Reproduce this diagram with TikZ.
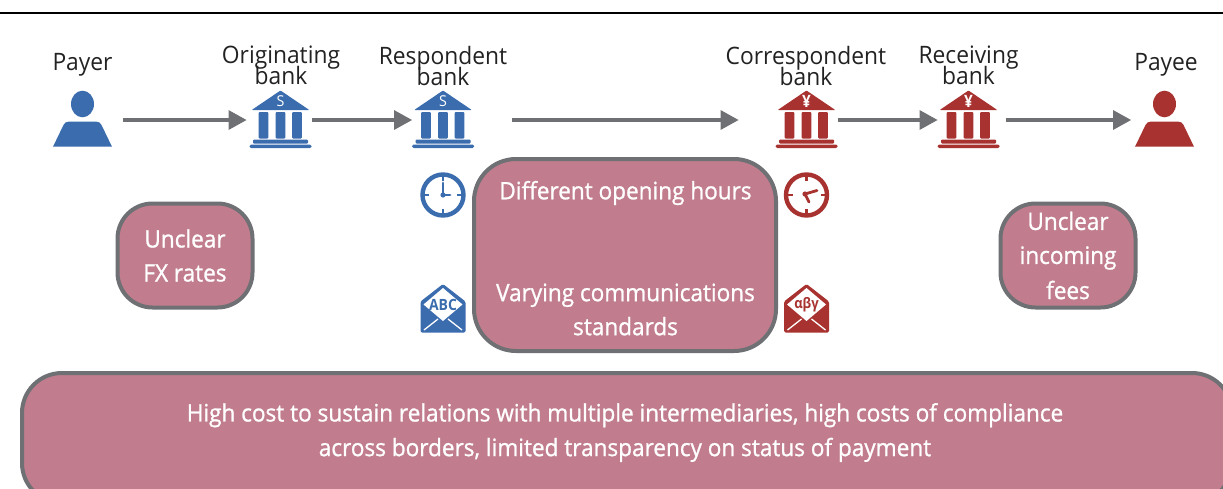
\documentclass[tikz,border=0pt]{standalone}
\usepackage{fontspec}
\setmainfont{Open Sans}
\newfontfamily\labelfont[FakeStretch=0.95]{Open Sans}
\newfontfamily\boxfont[FakeStretch=0.94,FakeBold=1.0]{Open Sans}
\newfontfamily\iconfont[FakeStretch=0.9]{Open Sans}
\usetikzlibrary{arrows.meta}
\definecolor{bluei}{HTML}{3A6CAE}
\definecolor{redi}{HTML}{A8322F}
\definecolor{boxfill}{HTML}{C17D8D}
\definecolor{boxline}{HTML}{6F7074}
\definecolor{inkc}{HTML}{222222}
\newcommand{\fs}[1]{\fontsize{#1}{#1}\selectfont}
\tikzset{
  x=1pt,y=-1pt,
  anchorbox/.style={inner sep=0pt,outer sep=0pt,minimum height=1pt,minimum width=#1},
  flow/.style={draw=boxline,line width=4pt,-{Triangle[length=18pt,width=20pt,line width=0pt]}},
  roundbox/.style={draw=boxline,fill=boxfill,line width=4pt,rounded corners=#1},
  boxtext/.style={text=white,align=center,inner sep=0pt,font=\boxfont\fs{24}},
  actor/.style={text=inkc,align=center,inner sep=0pt,font=\labelfont\fs{24}},
  pics/person/.style={code={
    \fill[#1] (0,-16) ellipse[x radius=11.5,y radius=13.3];
    \fill[#1] (-29.5,26.7) -- (-19,5) .. controls (-18,2.5) and (-16,1.7) .. (-14,1.7) -- (14,1.7) .. controls (16,1.7) and (18,2.5) .. (19,5) -- (29.5,26.7) -- cycle;
  }},
  pics/bank/.style args={#1/#2/#3}{code={
    \fill[#1,rounded corners=0.8pt] (0,-29.5) -- (28.8,-10) -- (-28.8,-10) -- cycle;
    \node[text=white,inner sep=0pt,font=#3] at (0,-18.5) {#2};
    \foreach \cx in {-17,0,16.5}
      \fill[#1,rounded corners=1pt] (\cx-4.9,-8) rectangle (\cx+4.9,18.5);
    \fill[#1,rounded corners=1pt] (-27.5,19.5) rectangle (27.5,23.5);
    \fill[#1,rounded corners=1.5pt] (-31,24.5) rectangle (31,28);
  }},
  pics/clockface/.style={code={
    \draw[#1,line width=4.4pt] (0,0) circle[radius=20.5];
    \foreach \a in {0,90,180,270}
      \draw[#1,line width=2.6pt] (\a:14) -- (\a:20);
  }},
  pics/envelope/.style args={#1/#2/#3}{code={
    \fill[#1,rounded corners=1.5pt] (-22.5,-16) -- (0,-33.5) -- (22.5,-16) -- (22.5,15) -- (-22.5,15) -- cycle;
    \fill[white] (0,-29.5) -- (19.5,-13) -- (0,3.5) -- (-19.5,-13) -- cycle;
    \draw[white,line width=1.3pt] (-19,12.5) -- (-5,1.5) (19,12.5) -- (5,1.5);
    \node[text=#1,inner sep=0pt,font=#3] at (0,-12.5) {#2};
  }},
}
\begin{document}
\begin{tikzpicture}
\useasboundingbox (0,0) rectangle (1223,488);
\draw[black,line width=2pt] (0,13) -- (1223,13);

% anchors of the flow row
\node[anchorbox=59pt] (payer) at (82.5,120) {};
\node[anchorbox=62pt] (orig) at (280.5,120) {};
\node[anchorbox=62pt] (resp) at (443,120) {};
\node[anchorbox=62pt] (corr) at (806.5,120) {};
\node[anchorbox=62pt] (recv) at (968.5,120) {};
\node[anchorbox=59pt] (payee) at (1164.5,120) {};

\pic at (82.5,120) {person=bluei};
\pic at (280.5,120) {bank={bluei/S/\labelfont\fs{15}}};
\pic at (443,120) {bank={bluei/S/\labelfont\fs{15}}};
\pic at (806.5,120) {bank={redi/¥/\iconfont\bfseries\fs{17}}};
\pic at (968.5,120) {bank={redi/¥/\iconfont\bfseries\fs{17}}};
\pic at (1164.5,120) {person=redi};

\node[actor] (l1) at (82.5,64.5) {Payer};
\node[actor,text width=170pt] (l2) at (281,65.5) {Originating\\[-3pt]bank};
\node[actor,text width=170pt] (l3) at (443,65.5) {Respondent\\[-3pt]bank};
\node[actor,text width=170pt] (l4) at (806,65.5) {Correspondent\\[-3pt]bank};
\node[actor,text width=170pt] (l5) at (968.5,65.5) {Receiving\\[-3pt]bank};
\node[actor] (l6) at (1166,64.5) {Payee};

\draw[flow,shorten <=11pt,shorten >=3pt] (payer.east) -- (orig.west);
\draw[flow] (orig.east) -- (resp.west);
\draw[flow,shorten <=38pt,shorten >=37pt] (resp.east) -- (corr.west);
\draw[flow] (corr.east) -- (recv.west);
\draw[flow,shorten <=6pt,shorten >=4pt] (recv.east) -- (payee.west);

% boxes
\node[roundbox=35pt,minimum width=135pt,minimum height=104pt,inner sep=0pt] (fx) at (185,255.5) {};
\node[boxtext] (fxt) at (185,255.5) {Unclear\\[10pt]FX rates};
\node[roundbox=35pt,minimum width=135pt,minimum height=104pt,inner sep=0pt] (inc) at (1068,255.5) {};
\node[boxtext] (inct) at (1068,255.5) {Unclear\\[10pt]incoming\\[10pt]fees};
\node[roundbox=42pt,minimum width=302pt,minimum height=192pt,inner sep=0pt] (mid) at (625,255) {};
\node[boxtext] (h) at (625.5,193) {Different opening hours};
\node[boxtext] (v) at (625.5,309.5) {Varying communications\\[10pt]standards};
\node[roundbox=40pt,minimum width=1210pt,minimum height=130pt,inner sep=0pt] (bot) at (627,438) {};
\node[boxtext] (bt) at (625,432.5) {High cost to sustain relations with multiple intermediaries, high costs of compliance\\[9.5pt]across borders, limited transparency on status of payment};

% clocks
\pic at (443,195) {clockface=bluei};
\draw[bluei,line width=2.8pt,line cap=round,line join=round] (443,183) -- (443,195) -- (450,195);
\fill[bluei] (443,195) circle[radius=2.6];
\pic at (806.5,195) {clockface=redi};
\draw[redi,line width=2.8pt,line cap=round,line join=round] (817,190.5) -- (805,194) -- (809,202);
\fill[redi] (805,194) circle[radius=2.6];

% envelopes
\pic at (443,317.5) {envelope={bluei/ABC/\iconfont\bfseries\fs{15.5}}};
\pic at (806.5,317.5) {envelope={redi/αβγ/\iconfont\bfseries\fs{14.5}}};
\end{tikzpicture}
\end{document}
